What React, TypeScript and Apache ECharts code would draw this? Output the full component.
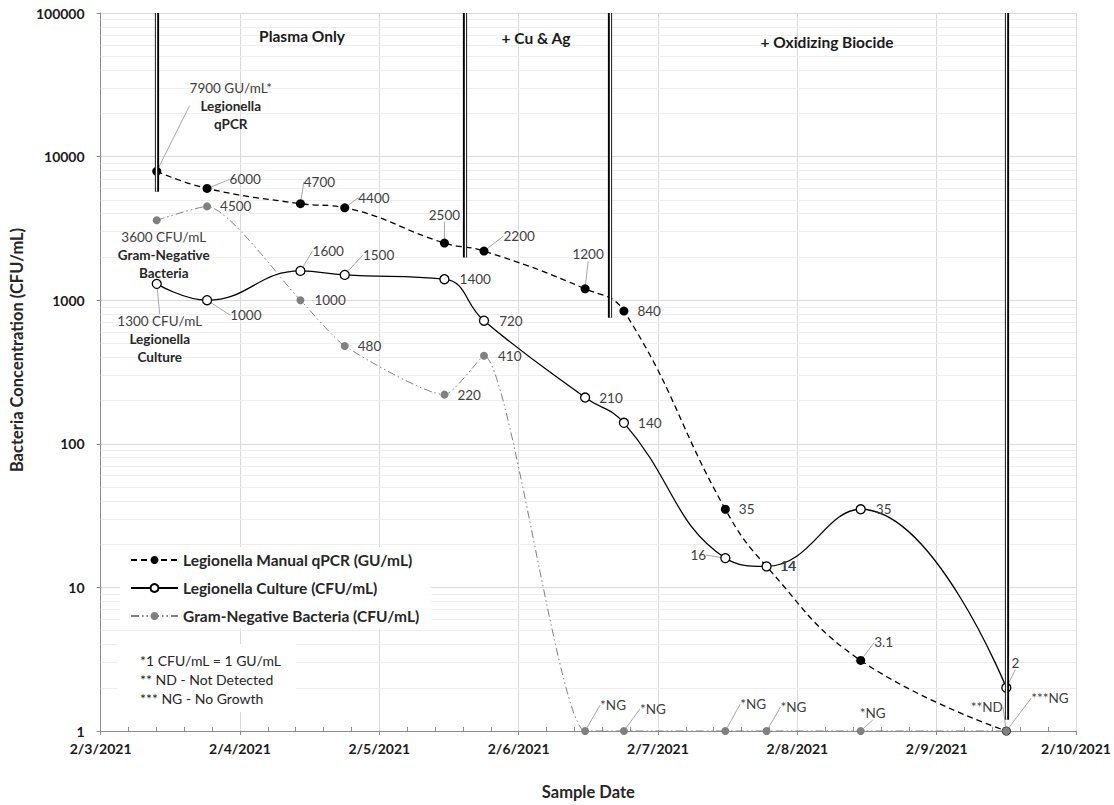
import React, { useEffect, useRef } from 'react';
import * as echarts from 'echarts';

// ---------------- data ----------------
const startDate = '2021-02-03T00:00';
const sampleDates = [
  '2021-02-03T09:40', '2021-02-03T18:20', '2021-02-04T10:25', '2021-02-04T18:03',
  '2021-02-05T11:13', '2021-02-05T18:02', '2021-02-06T11:27', '2021-02-06T18:08',
  '2021-02-07T11:36', '2021-02-07T18:42', '2021-02-08T10:55', '2021-02-09T12:00',
];
const xTickLabels = ['2/3/2021', '2/4/2021', '2/5/2021', '2/6/2021', '2/7/2021', '2/8/2021', '2/9/2021', '2/10/2021'];
const yTickLabels = ['1', '10', '100', '1000', '10000', '100000'];

const qpcrValues = [7900, 6000, 4700, 4400, 2500, 2200, 1200, 840, 35, 14, 3.1, 1];
const cultureValues = [1300, 1000, 1600, 1500, 1400, 720, 210, 140, 16, 14, 35, 2];
const gramNegValues = [3600, 4500, 1000, 480, 220, 410, 1, 1, 1, 1, 1, 1];

const qpcrLabels = ['7900 GU/mL*|Legionella|qPCR', '6000', '4700', '4400', '2500', '2200', '1200', '840', '35', '14', '3.1', '**ND'];
const cultureLabels = ['1300 CFU/mL|Legionella|Culture', '1000', '1600', '1500', '1400', '720', '210', '140', '16', '14', '35', '2'];
const gramNegLabels = ['3600 CFU/mL|Gram-Negative|Bacteria', '4500', '1000', '480', '220', '410', '*NG', '*NG', '*NG', '*NG', '*NG', '***NG'];

const seriesNames = ['Legionella Manual qPCR (GU/mL)', 'Legionella Culture (CFU/mL)', 'Gram-Negative Bacteria (CFU/mL)'];

const interventionDates = ['2021-02-03T09:40', '2021-02-05T14:45', '2021-02-06T15:44', '2021-02-09T12:00'];
const interventionLowValues = [5700, 1980, 754, 1.2];

const phaseNames = ['Plasma Only', '+ Cu & Ag', '+ Oxidizing Biocide'];
const footnotes = ['*1 CFU/mL = 1 GU/mL', '** ND - Not Detected', '*** NG - No Growth'];

// ---------------- layout (label placement: position, dx, dy, leader) ----------------
type LL = [string, number, number, boolean];
const qpcrLabelLayout: LL[] = [
  ['top', 74, -29, true], ['right', 13, -9, true], ['top', 19, -5, true], ['right', 4, -10, true],
  ['top', 0, -12, true], ['right', 10, -15, true], ['top', 3, -18, true], ['right', 4, 0, false],
  ['right', 4, 0, false], ['right', 4, 0, false], ['right', 4, -18, true], ['left', 6, -24, true],
];
const cultureLabelLayout: LL[] = [
  ['bottom', 3, 18, true], ['right', 13, 15, true], ['right', 2, -20, true], ['right', 8, -20, true],
  ['right', 5, 0, false], ['right', 5, 0, false], ['right', 4, 0, false], ['right', 4, 0, false],
  ['left', -9, -3, true], ['right', 4, 0, false], ['right', 5, 0, false], ['top', 9, -8, true],
];
const gramNegLabelLayout: LL[] = [
  ['bottom', 7, -1, false], ['right', 4, 0, false], ['right', 5, 0, false], ['right', 4, 0, false],
  ['right', 4, 0, false], ['right', 5, 0, false], ['right', 6, -26, true], ['right', 7, -22, true],
  ['right', 6, -27, true], ['right', 5, -24, true], ['top', 12, -2, true], ['right', 16, -33, true],
];

const FONT = 'Lato, "Open Sans", sans-serif';
const LABEL_SIZE = 13.5;
const DAY = 86400000;
const toDay = (s: string) => (Date.parse(s) - Date.parse(startDate)) / DAY;

function labelText(raw: string) {
  const parts = raw.split('|');
  if (parts.length === 1) return raw;
  return ['{n|' + parts[0] + '}', ...parts.slice(1).map((p) => '{b|' + p + '}')].join('\n');
}

function buildSeries(
  name: string, values: number[], labels: string[], layout: LL[], extra: any,
) {
  const days = sampleDates.map(toDay);
  return {
    name,
    type: 'line',
    clip: false,
    data: values.map((v, i) => ({
      value: [days[i], v],
      label: { position: layout[i][0] },
      labelLine: { show: layout[i][3] },
    })),
    label: {
      show: true,
      distance: 5,
      fontFamily: FONT,
      fontSize: LABEL_SIZE,
      color: '#404040',
      formatter: (p: any) => labelText(labels[p.dataIndex]),
      rich: {
        n: { fontFamily: FONT, fontSize: LABEL_SIZE, color: '#404040', lineHeight: 18 },
        b: { fontFamily: FONT, fontSize: LABEL_SIZE, fontWeight: 'bold', color: '#262626', lineHeight: 18 },
      },
    },
    labelLayout: (p: any) => ({ dx: layout[p.dataIndex][1], dy: layout[p.dataIndex][2] }),
    labelLine: { show: false, lineStyle: { color: '#a6a6a6', width: 1 } },
    ...extra,
  };
}

export default function App() {
  const ref = useRef<HTMLDivElement>(null);
  useEffect(() => {
    if (!ref.current) return;
    const chart = echarts.init(ref.current, null, { renderer: 'svg' });

    const minorGrid: number[] = [];
    for (let d = 0; d < 5; d++) for (let k = 2; k <= 9; k++) minorGrid.push(k * Math.pow(10, d));

    const interventionLines = interventionDates.map((d, i) => [
      { coord: [toDay(d), 100000] },
      { coord: [toDay(d), interventionLowValues[i]] },
    ]);

    const titleStyle = { fontFamily: FONT, fontSize: 16.5, fontWeight: 'bold', color: '#262626' };

    const option: any = {
      animation: false,
      backgroundColor: '#fff',
      textStyle: { fontFamily: FONT },
      grid: { left: 98, right: 38, top: 13, bottom: 68, containLabel: false },
      xAxis: [
        {
          type: 'value', min: 0, max: 7, interval: 1,
          name: 'Sample Date', nameLocation: 'middle', nameGap: 52,
          nameTextStyle: titleStyle,
          axisLine: { show: true, lineStyle: { color: '#8c8c8c', width: 1 } },
          axisTick: { show: true, length: 4, lineStyle: { color: '#8c8c8c' } },
          axisLabel: {
            fontFamily: FONT, fontSize: 14, fontWeight: 'bold', color: '#1a1a1a', margin: 10,
            formatter: (v: number) => xTickLabels[Math.round(v)] ?? '',
          },
          splitLine: { show: true, lineStyle: { color: '#d9d9d9', width: 1 } },
        },
        {
          type: 'value', min: 0, max: 7, interval: 1, position: 'bottom',
          axisLine: { show: false },
          axisTick: { show: false, inside: true },
          axisLabel: { show: false },
          splitLine: { show: false },
          minorTick: { show: true, splitNumber: 5, length: 4, lineStyle: { color: '#8c8c8c' } },
        },
      ],
      yAxis: {
        type: 'log', logBase: 10, min: 1, max: 100000,
        name: 'Bacteria Concentration (CFU/mL)', nameLocation: 'middle', nameGap: 70,
        nameTextStyle: { ...titleStyle, padding: [0, 0, 0, 44] },
        axisLine: { show: true, lineStyle: { color: '#8c8c8c', width: 1 } },
        axisTick: { show: true, length: 4, lineStyle: { color: '#8c8c8c' } },
        axisLabel: {
          fontFamily: FONT, fontSize: 14, fontWeight: 'bold', color: '#1a1a1a', margin: 16,
          formatter: (v: number) => yTickLabels[Math.round(Math.log10(v))] ?? '',
        },
        splitLine: { show: true, lineStyle: { color: '#d9d9d9', width: 1 } },
      },
      legend: {
        data: seriesNames,
        orient: 'vertical',
        left: 120, top: 547,
        z: 8,
        padding: [5, 12, 5, 10],
        itemWidth: 47, itemHeight: 10, itemGap: 12,
        backgroundColor: '#ffffff',
        textStyle: { fontFamily: FONT, fontSize: 15.5, fontWeight: 'bold', color: '#262626' },
      },
      series: [
        {
          name: 'minorGrid', type: 'line', data: [], z: 0, silent: true,
          markLine: {
            z: 1, silent: true, symbol: ['none', 'none'], label: { show: false },
            lineStyle: { color: '#eeeeee', width: 1, type: 'solid' },
            data: minorGrid.map((v) => ({ yAxis: v })),
          },
        },
        buildSeries(seriesNames[0], qpcrValues, qpcrLabels, qpcrLabelLayout, {
          smooth: 0.45,
          symbol: 'circle', symbolSize: 9,
          itemStyle: { color: '#000000' },
          lineStyle: { color: '#000000', width: 1.3, type: [6, 4] },
          z: 3,
        }),
        buildSeries(seriesNames[1], cultureValues, cultureLabels, cultureLabelLayout, {
          smooth: 0.45,
          symbol: 'circle', symbolSize: 9,
          itemStyle: { color: '#ffffff', borderColor: '#000000', borderWidth: 1.3 },
          lineStyle: { color: '#000000', width: 1.3, type: 'solid' },
          z: 4,
        }),
        buildSeries(seriesNames[2], gramNegValues, gramNegLabels, gramNegLabelLayout, {
          smooth: 0.2,
          symbol: 'circle', symbolSize: 8,
          itemStyle: { color: '#808080' },
          lineStyle: { color: '#808080', width: 1, type: [8, 3, 1.5, 3, 1.5, 3] },
          z: 5,
        }),
        {
          name: 'dividerOuter', type: 'line', data: [], z: 6, silent: true,
          markLine: {
            z: 6, silent: true, symbol: ['none', 'none'], label: { show: false },
            lineStyle: { color: '#000000', width: 4.2, type: 'solid' },
            data: interventionLines,
          },
        },
        {
          name: 'dividerInner', type: 'line', data: [], z: 7, silent: true,
          markLine: {
            z: 7, silent: true, symbol: ['none', 'none'], label: { show: false },
            lineStyle: { color: '#ffffff', width: 1.4, type: 'solid' },
            data: interventionLines,
          },
        },
      ],
      graphic: [
        ...phaseNames.map((t, i) => ({
          type: 'text',
          x: [302, 536, 827][i],
          y: [36, 38, 42][i],
          z: 10,
          style: {
            text: t, fontFamily: FONT, fontSize: 15.5, fontWeight: 'bold', fill: '#1a1a1a',
            align: 'center', verticalAlign: 'middle',
          },
        })),
        {
          type: 'rect', x: 118, y: 644, z: 10,
          shape: { x: 0, y: 0, width: 178, height: 68 },
          style: { fill: '#ffffff' },
        },
        ...footnotes.map((t, i) => ({
          type: 'text', x: 140, y: 660 + i * 19, z: 11,
          style: {
            text: t, fontFamily: FONT, fontSize: 14, fill: '#262626',
            align: 'left', verticalAlign: 'middle',
          },
        })),
      ],
    };
    chart.setOption(option);
    return () => chart.dispose();
  }, []);
  return (
    <div
      ref={ref}
      style={{ position: 'absolute', left: 0, top: 0, width: 1114, height: 805, background: '#fff' }}
    />
  );
}
